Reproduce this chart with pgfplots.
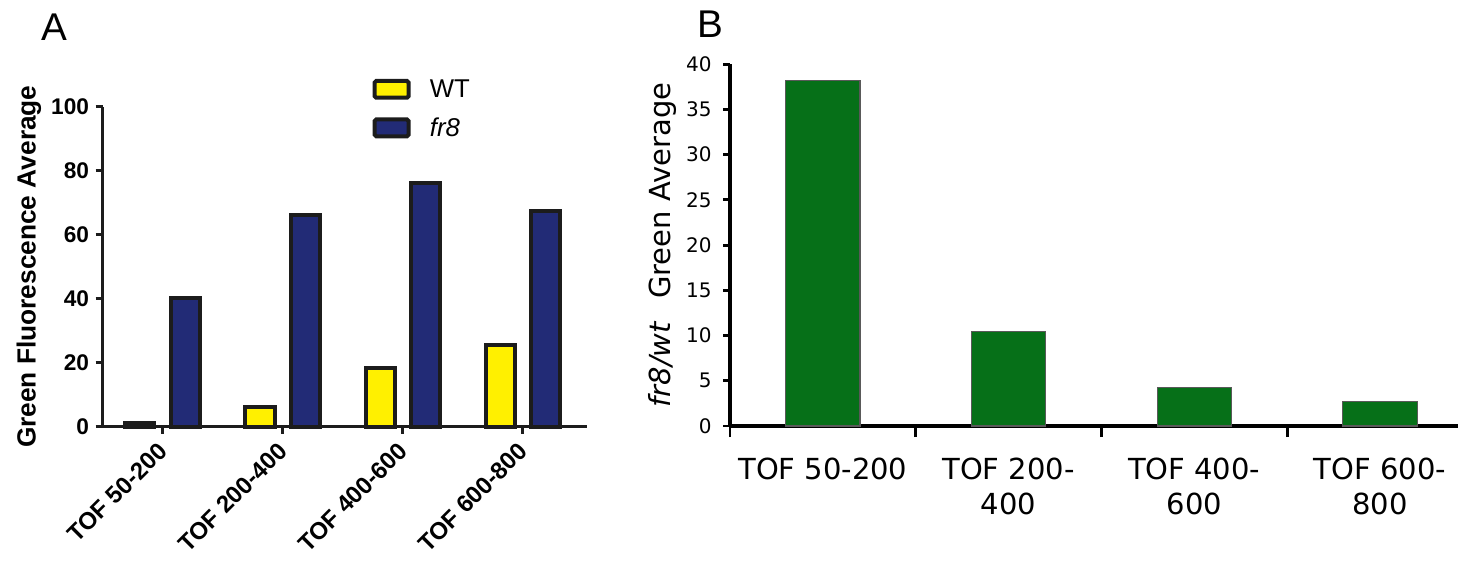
\documentclass[border=0pt]{standalone}
\usepackage{pgfplots}
\pgfplotsset{compat=1.18}
\usepackage{fontspec}
\setmainfont{Liberation Sans}
\newfontfamily\dejavu{DejaVu Sans}
\definecolor{wty}{RGB}{255,240,0}
\definecolor{navy}{RGB}{34,43,118}
\definecolor{bgreen}{RGB}{6,112,24}
\definecolor{ink}{RGB}{28,28,28}
\begin{document}
\begin{tikzpicture}
\useasboundingbox (0,0) rectangle (1093.5pt,420.75pt);
\clip (0,0) rectangle (1093.5pt,420.75pt);
\node[font=\fontsize{29}{29}\selectfont, inner sep=0pt] at (40.9pt,400.7pt) {A};
\node[font=\fontsize{29}{29}\selectfont, inner sep=0pt] at (532.5pt,402.75pt) {B};
\begin{axis}[
  at={(77.03pt,100.73pt)}, anchor=south west,
  scale only axis, width=362.85pt, height=240pt,
  xmin=-0.5, xmax=3.53, ymin=0, ymax=100,
  axis lines*=left,
  axis line style={line width=2.6pt, ink},
  ybar, bar width=0.242,
  xtick={0,1,2,3},
  xticklabels={TOF 50-200,TOF 200-400,TOF 400-600,TOF 600-800},
  ytick={0,20,...,100},
  tick align=outside,
  major tick length=5.25pt,
  tick style={line width=2.2pt, ink},
  /pgf/number format/assume math mode=true,
  yticklabel style={font=\bfseries\fontsize{17}{17}\selectfont},
  yticklabel shift=1.5pt,
  xticklabel style={font=\bfseries\fontsize{18}{18}\selectfont, xshift=-4.5pt, yshift=5.25pt, rotate=45, anchor=north east},
  xticklabel shift=5.6pt,
  ylabel={Green Fluorescence Average},
  ylabel style={font=\bfseries\fontsize{19.7}{19.7}\selectfont, at={(axis description cs:0,0.5)}, anchor=center, yshift=55.35pt, inner sep=0pt},
  legend style={at={(rel axis cs:0.549,1.1025)}, anchor=north west, draw=none, fill=none, font=\fontsize{19.3}{19.3}\selectfont, row sep=9.75pt},
  legend cell align=left,
  legend image code/.code={\draw[#1, line width=3pt, rounded corners=1.2pt] (0pt,-6.3pt) rectangle (25.5pt,6.3pt); \path (38pt,0pt);},
  clip=false,
]
\addplot[fill=wty, draw=ink, line width=3pt, bar shift=-0.19] coordinates {(0,1.3) (1,6.2) (2,18.3) (3,25.6)};
\addplot[fill=navy, draw=ink, line width=3pt, bar shift=0.19] coordinates {(0,40.2) (1,66.2) (2,76.3) (3,67.5)};
\legend{WT,\textit{fr8}}
\end{axis}
\begin{axis}[
  at={(547.5pt,101.25pt)}, anchor=south west,
  scale only axis, width=557.1pt, height=271.3pt,
  xmin=-0.5, xmax=3.5, ymin=0, ymax=40,
  axis lines*=left,
  axis line style={line width=2.4pt, black},
  ybar, bar width=0.4,
  xtick={0,1,2,3},
  xticklabels={TOF 50-200,{TOF 200-\\400},{TOF 400-\\600},{TOF 600-\\800}},
  minor xtick={-0.5,0.5,1.5,2.5,3.5},
  major x tick style={draw=none},
  ytick={0,5,...,40},
  tick align=outside, major tick length=5.25pt, minor tick length=8.25pt,
  tick style={line width=2.2pt, black},
  /pgf/number format/assume math mode=true,
  yticklabel style={font=\dejavu\fontsize{15}{15}\selectfont},
  yticklabel shift=5pt,
  xticklabel style={font=\dejavu\fontsize{21.75}{26.5}\selectfont, align=center, anchor=north},
  xticklabel shift=15pt,
  ylabel={{\itshape fr8/wt}\hspace{0.8em}Green Average},
  ylabel style={font=\dejavu\fontsize{21.75}{21.75}\selectfont, at={(axis description cs:0,0.5)}, anchor=center, yshift=50.6pt, inner sep=0pt},
  clip=false,
]
\addplot[fill=bgreen, draw=black!65, line width=0.8pt] coordinates {(0,38.2) (1,10.4) (2,4.24) (3,2.7)};
\end{axis}
\end{tikzpicture}
\end{document}
